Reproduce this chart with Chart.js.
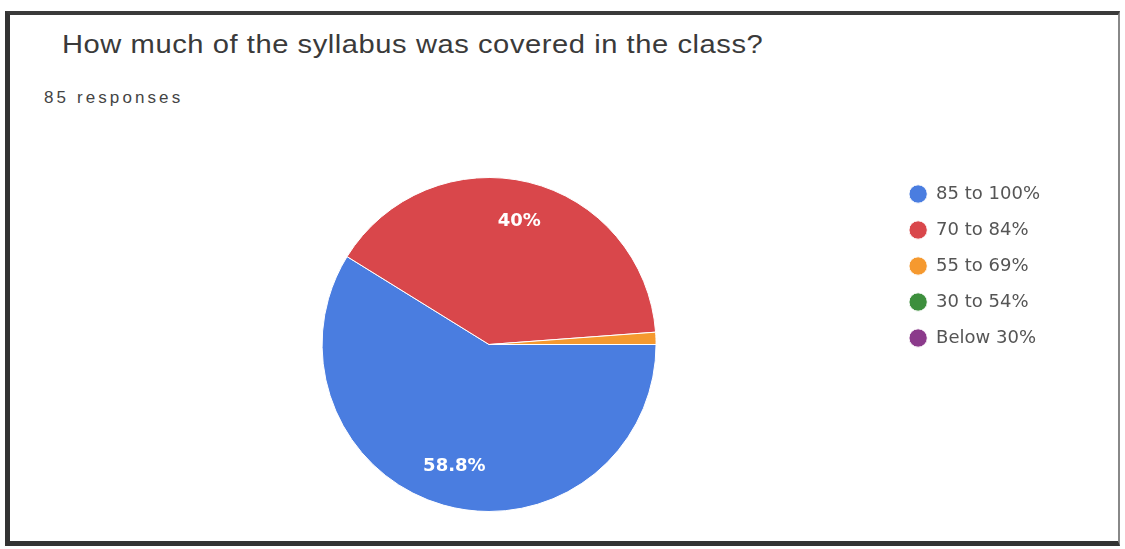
<!DOCTYPE html>
<html>
<head>
<meta charset="utf-8">
<script src="https://cdn.jsdelivr.net/npm/chart.js@4/dist/chart.umd.min.js"></script>
<style>
  html, body { margin: 0; padding: 0; background: #fff; width: 1125px; height: 549px; overflow: hidden; }
  #frame { position: absolute; left: 5px; top: 11px; width: 1108px; height: 526px;
           border-left: 5px solid #333; border-top: 4px solid #3a3a3a; border-bottom: 5px solid #333; border-right: 2px solid #888; }
  #title { position: absolute; left: 62px; top: 31px; font-family: 'Liberation Sans', Arial, sans-serif;
           font-size: 26px; line-height: 26px; color: #3a3a3a; letter-spacing: 0.5px; white-space: nowrap;
           transform: scaleX(1.12); transform-origin: 0 0; }
  #sub { position: absolute; left: 44px; top: 89px; font-family: 'Liberation Sans', Arial, sans-serif;
         font-size: 17px; line-height: 17px; color: #444; letter-spacing: 3.1px; white-space: nowrap; }
  #c { position: absolute; left: 0; top: 0; }
</style>
</head>
<body>
<div id="frame"></div>
<div id="title">How much of the syllabus was covered in the class?</div>
<div id="sub">85 responses</div>
<canvas id="c" width="1125" height="549"></canvas>
<script>
const categories = ['85 to 100%', '70 to 84%', '55 to 69%', '30 to 54%', 'Below 30%'];
const responses = [50, 34, 1, 0, 0];
const sliceColors = ['#4a7de0', '#d9474b', '#f5992f', '#3d8f3d', '#8b3a8b'];

const total = responses.reduce((a, b) => a + b, 0);
const pctText = responses.map(v => {
  const p = Math.round(v / total * 1000) / 10;
  return (Number.isInteger(p) ? p.toFixed(0) : p.toFixed(1)) + '%';
});

const sliceLabels = {
  id: 'sliceLabels',
  afterDatasetsDraw(chart) {
    const ctx = chart.ctx;
    const meta = chart.getDatasetMeta(0);
    meta.data.forEach((arc, i) => {
      if (responses[i] / total < 0.05) return;
      const p = arc.getProps(['startAngle', 'endAngle', 'outerRadius', 'x', 'y'], true);
      const mid = (p.startAngle + p.endAngle) / 2;
      const r = p.outerRadius * 0.76;
      ctx.save();
      ctx.fillStyle = '#ffffff';
      ctx.font = 'bold 18px "DejaVu Sans", sans-serif';
      ctx.textAlign = 'center';
      ctx.textBaseline = 'middle';
      ctx.fillText(pctText[i], p.x + Math.cos(mid) * r, p.y + Math.sin(mid) * r);
      ctx.restore();
    });
  }
};

new Chart(document.getElementById('c'), {
  type: 'pie',
  data: {
    labels: categories,
    datasets: [{
      data: responses,
      backgroundColor: sliceColors,
      borderColor: '#ffffff',
      borderWidth: 1
    }]
  },
  options: {
    responsive: false,
    animation: false,
    devicePixelRatio: 1,
    rotation: 90,
    radius: 167,
    layout: { padding: { top: 167, bottom: 27, left: 87, right: 75 } },
    plugins: {
      title: { display: false },
      tooltip: { enabled: false },
      legend: {
        position: 'right',
        align: 'start',
        labels: {
          usePointStyle: true,
          pointStyle: 'circle',
          boxHeight: 13,
          padding: 18,
          color: '#555',
          font: { family: '"DejaVu Sans", sans-serif', size: 18 }
        }
      }
    }
  },
  plugins: [sliceLabels]
});
</script>
</body>
</html>
